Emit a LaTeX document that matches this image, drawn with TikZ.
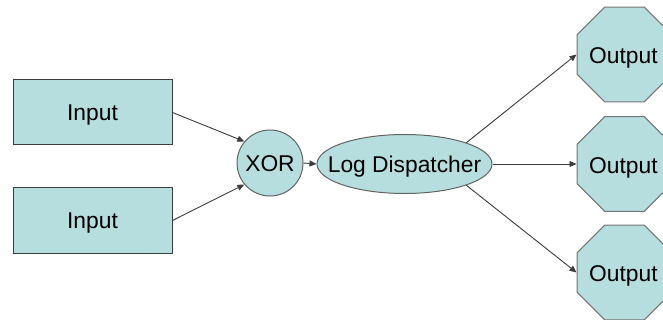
\documentclass[tikz,border=0pt]{standalone}
\usepackage{fontspec}
\setmainfont{Liberation Sans}
\usetikzlibrary{shapes.geometric,arrows.meta}
\definecolor{tealfill}{RGB}{182,222,222}
\definecolor{edgegray}{RGB}{60,60,60}
\tikzset{
  lbl/.style={font=\fontsize{22.8}{27}\selectfont, text=black, inner sep=0pt, text height=16.3pt, text depth=0pt},
  inbox/.style={lbl, draw=edgegray, line width=1pt, fill=tealfill, rectangle, minimum width=159pt, minimum height=65pt},
  xorc/.style={lbl, draw=edgegray!80, line width=1pt, fill=tealfill, circle, minimum size=66pt},
  disp/.style={draw=edgegray!80, line width=1pt, fill=tealfill, ellipse, inner sep=0pt, minimum width=175pt, minimum height=59pt},
  outoct/.style={draw=gray!90!black, line width=1pt, fill=tealfill, regular polygon, regular polygon sides=8, inner sep=0pt, minimum size=102.8pt},
  conn/.style={draw=edgegray, line width=0.9pt, -{Triangle[length=7pt,width=6pt]}}
}
\begin{document}
\begin{tikzpicture}[x=1pt,y=-1pt]
\useasboundingbox (0,0) rectangle (663,320);
\node[inbox] (in1) at (92.5,112.5) {Input};
\node[inbox] (in2) at (92.5,220.5) {Input};
\node[xorc] (xor) at (270,163) {XOR};
\node[disp] (ld) at (404.5,164) {};
\node[lbl] (ldt) at (404.5,164.5) {Log Dispatcher};
\node[outoct] (o1) at (624.5,54.5) {};
\node[outoct] (o2) at (624.5,164) {};
\node[outoct] (o3) at (624.5,272.5) {};
\node[lbl, anchor=west] (t1) at (589,55.5) {Output};
\node[lbl, anchor=west] (t2) at (589,165) {Output};
\node[lbl, anchor=west] (t3) at (589,273.5) {Output};
\draw[conn] (in1.east) -- (xor.140);
\draw[conn] (in2.east) -- (xor.220);
\draw[conn] (xor.east) -- (ld.west);
\draw[conn] (ld.19) -- (o1.west);
\draw[conn] (ld.east) -- (o2.west);
\draw[conn] (ld.-19) -- (o3.west);
\end{tikzpicture}
\end{document}
